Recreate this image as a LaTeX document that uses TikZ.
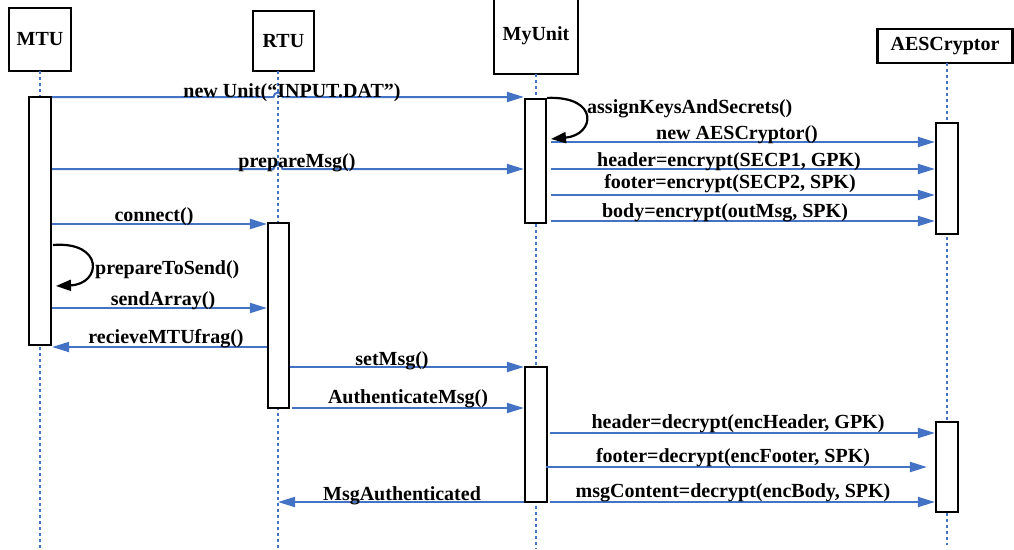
\documentclass[tikz,border=0pt]{standalone}
\usepackage{fontspec}
\setmainfont{Liberation Serif}
\usetikzlibrary{arrows.meta}
\definecolor{lineblue}{RGB}{68,114,196}
\begin{document}
\begin{tikzpicture}[x=1pt,y=-1pt,
  every node/.style={font=\bfseries\fontsize{20}{23}\selectfont},
  headbox/.style={draw, line width=2.2pt, inner sep=0pt, fill=white},
  actbox/.style={draw, line width=2.2pt, fill=white, inner sep=0pt},
  lifeline/.style={lineblue, line width=2pt, dash pattern=on 3pt off 3pt},
  msg/.style={lineblue, line width=2pt, -{Triangle[length=17pt,width=10pt]}},
  selfmsg/.style={black, line width=2.2pt, -{Triangle[length=15pt,width=11pt]}},
  lbl/.style={anchor=base, inner sep=0pt}
]
\useasboundingbox (0,0) rectangle (1014,549);

% head boxes
\node[headbox, minimum width=62pt, minimum height=63pt] (mtu) at (40,39.5) {MTU};
\node[headbox, minimum width=61pt, minimum height=60pt] (rtu) at (283.5,41) {RTU};
\node[headbox, minimum width=84pt, minimum height=76pt] (myunit) at (536,36) {MyUnit};
\node[headbox, minimum width=135pt, minimum height=34pt] (aes) at (945,46) {AESCryptor};

% lifeline ends
\coordinate (mtuTop) at (40,71);   \coordinate (mtuBot) at (40,549);
\coordinate (rtuTop) at (278,71);  \coordinate (rtuBot) at (278,549);
\coordinate (myTop) at (536,74);   \coordinate (myBot) at (536,549);
\coordinate (aesTop) at (947,63);  \coordinate (aesBot) at (947,545);

\draw[lifeline] (mtuTop) -- (mtuBot);
\draw[lifeline] (rtuTop) -- (rtuBot);
\draw[lifeline] (myTop) -- (myBot);
\draw[lifeline] (aesTop) -- (aesBot);

% activations
\node[actbox, minimum width=22pt, minimum height=248pt] (mtuAct) at (40,221) {};
\node[actbox, minimum width=21pt, minimum height=185pt] (rtuAct) at (278.5,315.5) {};
\node[actbox, minimum width=21pt, minimum height=124pt] (myAct1) at (535.5,161) {};
\node[actbox, minimum width=22pt, minimum height=135pt] (myAct2) at (536,434.5) {};
\node[actbox, minimum width=22pt, minimum height=111pt] (aesAct1) at (947,178.5) {};
\node[actbox, minimum width=22pt, minimum height=90pt] (aesAct2) at (947,467) {};

% message rows
\coordinate (r1) at (0,97);
\coordinate (r2) at (0,142);
\coordinate (r3) at (0,169);
\coordinate (r4) at (0,195);
\coordinate (r5) at (0,221);
\coordinate (r6) at (0,224);
\coordinate (r7) at (0,308);
\coordinate (r8) at (0,347);
\coordinate (r9) at (0,367);
\coordinate (r10) at (0,408);
\coordinate (r11) at (0,433);
\coordinate (r12) at (0,467);
\coordinate (r13) at (0,502);

% messages
\draw[msg] (mtuAct.east |- r1) -- ([xshift=-4.5pt]rtuTop |- r1) arc[start angle=180, end angle=360, radius=4.5] -- (myAct1.west |- r1);
\draw[msg] ([xshift=4pt]myAct1.east |- r2) -- (aesAct1.west |- r2);
\draw[msg] (mtuAct.east |- r3) -- ([xshift=-4.5pt]rtuTop |- r3) arc[start angle=180, end angle=360, radius=4.5] -- (myAct1.west |- r3);
\draw[msg] ([xshift=4pt]myAct1.east |- r3) -- (aesAct1.west |- r3);
\draw[msg] ([xshift=4pt]myAct1.east |- r4) -- (aesAct1.west |- r4);
\draw[msg] ([xshift=4pt]myAct1.east |- r5) -- (aesAct1.west |- r5);
\draw[msg] (mtuAct.east |- r6) -- (rtuAct.west |- r6);
\draw[msg] (mtuAct.east |- r7) -- (rtuAct.west |- r7);
\draw[msg] (rtuAct.west |- r8) -- (mtuAct.east |- r8);
\draw[msg] (rtuAct.east |- r9) -- (myAct2.west |- r9);
\draw[msg] ([xshift=2pt]rtuAct.east |- r10) -- (myAct2.west |- r10);
\draw[msg] ([xshift=2pt]myAct2.east |- r11) -- (aesAct2.west |- r11);
\draw[msg] ([xshift=-2pt]myAct2.east |- r12) -- ([xshift=-8pt]aesAct2.west |- r12);
\draw[msg] ([xshift=2pt]myAct2.east |- r13) -- (aesAct2.west |- r13);
\draw[msg] (myAct2.west |- r13) -- (rtuTop |- r13);

% self messages
\coordinate (loop1end) at (551,139);
\coordinate (loop2start) at (53,245);
\coordinate (loop2end) at (56,286);
\draw[selfmsg] (myAct1.north east) .. controls +(53,-2) and +(44,-4) .. (loop1end);
\draw[selfmsg] (loop2start) .. controls +(51,-4) and +(46,-2) .. (loop2end);

% labels
\node[lbl] (l1) at (292,97) {new Unit(“INPUT.DAT”)};
\node[lbl, anchor=base west] (l2) at (587,113) {assignKeysAndSecrets()};
\node[lbl] (l3) at (737,139) {new AESCryptor()};
\node[lbl] (l4) at (297,167) {prepareMsg()};
\node[lbl] (l5) at (729,166) {header=encrypt(SECP1, GPK)};
\node[lbl] (l6) at (730,188) {footer=encrypt(SECP2, SPK)};
\node[lbl] (l7) at (725,217) {body=encrypt(outMsg, SPK)};
\node[lbl] (l8) at (154,221) {connect()};
\node[lbl, anchor=base west] (l9) at (95,274) {prepareToSend()};
\node[lbl] (l10) at (163,305) {sendArray()};
\node[lbl] (l11) at (166,343) {recieveMTUfrag()};
\node[lbl] (l12) at (392,365) {setMsg()};
\node[lbl] (l13) at (408,403) {AuthenticateMsg()};
\node[lbl] (l14) at (738,428) {header=decrypt(encHeader, GPK)};
\node[lbl] (l15) at (733,462) {footer=decrypt(encFooter, SPK)};
\node[lbl] (l16) at (733,497) {msgContent=decrypt(encBody, SPK)};
\node[lbl] (l17) at (402,500) {MsgAuthenticated};
\end{tikzpicture}
\end{document}
